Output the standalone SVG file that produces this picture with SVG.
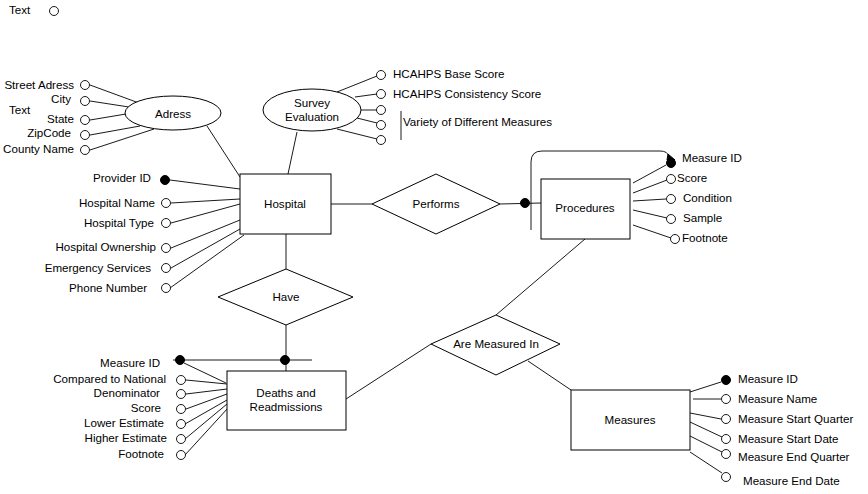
<svg xmlns="http://www.w3.org/2000/svg" width="868" height="494" viewBox="0 0 868 494">
<style>
text{font-family:"Liberation Sans",Arial,sans-serif;font-size:11.6px;fill:#000}
.s{fill:#fff;stroke:#000;stroke-width:1}
.c{fill:#fff;stroke:#000;stroke-width:0.9}
.k{fill:#000;stroke:#000;stroke-width:1}
.l{fill:none;stroke:#000;stroke-width:0.9}
.m{text-anchor:middle}
.e{text-anchor:end}
</style>
<rect width="868" height="494" fill="#fff"/>
<g id="connectors">
<line class="l" x1="90" y1="85" x2="139" y2="103"/>
<line class="l" x1="90" y1="101" x2="129" y2="107"/>
<line class="l" x1="90" y1="120" x2="126" y2="114"/>
<line class="l" x1="90" y1="135" x2="140" y2="126"/>
<line class="l" x1="90" y1="150" x2="154" y2="129"/>
<line class="l" x1="207" y1="126" x2="240" y2="177"/>
<line class="l" x1="337" y1="92" x2="377" y2="76"/>
<line class="l" x1="355" y1="97" x2="377" y2="94"/>
<line class="l" x1="361" y1="110" x2="377" y2="110"/>
<line class="l" x1="357" y1="118" x2="377" y2="123"/>
<line class="l" x1="337" y1="129" x2="377" y2="139"/>
<line class="l" x1="297" y1="132" x2="288" y2="174"/>
<line class="l" x1="401" y1="111" x2="401" y2="140"/>
<line class="l" x1="170" y1="180" x2="240" y2="189"/>
<line class="l" x1="171" y1="203" x2="240" y2="199"/>
<line class="l" x1="171" y1="223" x2="240" y2="204"/>
<line class="l" x1="171" y1="248" x2="240" y2="220"/>
<line class="l" x1="171" y1="268" x2="240" y2="229"/>
<line class="l" x1="170" y1="288" x2="244" y2="235"/>
<line class="l" x1="331" y1="204" x2="372" y2="204"/>
<line class="l" x1="500" y1="204" x2="541" y2="203"/>
<path class="l" d="M531 230 V162 Q531 151 542 151 H660 Q668 151 669 157"/>
<line class="l" x1="633" y1="183" x2="666" y2="165"/>
<line class="l" x1="633" y1="193" x2="667" y2="180"/>
<line class="l" x1="633" y1="201" x2="666" y2="199"/>
<line class="l" x1="633" y1="210" x2="667" y2="218"/>
<line class="l" x1="633" y1="225" x2="671" y2="238"/>
<line class="l" x1="286" y1="234" x2="286" y2="269"/>
<line class="l" x1="286" y1="325" x2="286" y2="371"/>
<line class="l" x1="173" y1="360" x2="312" y2="360"/>
<line class="l" x1="184" y1="363" x2="226" y2="383"/>
<line class="l" x1="186" y1="380" x2="227" y2="384"/>
<line class="l" x1="186" y1="394" x2="227" y2="389"/>
<line class="l" x1="186" y1="409" x2="227" y2="394"/>
<line class="l" x1="185" y1="424" x2="227" y2="400"/>
<line class="l" x1="185" y1="439" x2="227" y2="404"/>
<line class="l" x1="185" y1="455" x2="228" y2="408"/>
<line class="l" x1="346" y1="399" x2="431" y2="344"/>
<line class="l" x1="585" y1="239" x2="496" y2="315"/>
<line class="l" x1="528" y1="361" x2="571" y2="390"/>
<line class="l" x1="690" y1="392" x2="721" y2="382"/>
<line class="l" x1="693" y1="399" x2="721" y2="399"/>
<line class="l" x1="690" y1="413" x2="721" y2="419"/>
<line class="l" x1="690" y1="422" x2="722" y2="437"/>
<line class="l" x1="690" y1="436" x2="722" y2="452"/>
<line class="l" x1="690" y1="452" x2="722" y2="473"/>
</g>
<g id="legend"><text x="9" y="14">Text</text><circle class="c" cx="54" cy="11" r="4.5"/></g>
<g id="adress"><ellipse class="s" cx="173" cy="113" rx="48" ry="17"/><text class="m" x="173" y="118">Adress</text></g>
<g id="adress-attrs">
<text class="e" x="74" y="89">Street Adress</text><circle class="c" cx="85" cy="85" r="4.5"/>
<text class="e" x="71" y="103">City</text><circle class="c" cx="85" cy="101" r="4.5"/>
<text x="9" y="114">Text</text>
<text class="e" x="74" y="123">State</text><circle class="c" cx="85" cy="120" r="4.5"/>
<text class="e" x="71" y="137">ZipCode</text><circle class="c" cx="85" cy="135" r="4.5"/>
<text class="e" x="74" y="153">County Name</text><circle class="c" cx="85" cy="150" r="4.5"/>
</g>
<g id="survey"><ellipse class="s" cx="312" cy="110" rx="49" ry="21"/><text class="m" x="312" y="107">Survey</text><text class="m" x="312" y="121">Evaluation</text></g>
<g id="survey-attrs">
<circle class="c" cx="381" cy="75" r="4.5"/><text x="393" y="78">HCAHPS Base Score</text>
<circle class="c" cx="381" cy="94" r="4.5"/><text x="393" y="98">HCAHPS Consistency Score</text>
<circle class="c" cx="381" cy="110" r="4.5"/>
<circle class="c" cx="381" cy="125" r="4.5"/>
<circle class="c" cx="381" cy="140" r="4.5"/>
<text x="403" y="126">Variety of Different Measures</text>
</g>
<g id="hospital"><rect class="s" x="240" y="174" width="91" height="60"/><text class="m" x="285" y="208">Hospital</text></g>
<g id="hospital-attrs">
<text class="e" x="151" y="182">Provider ID</text><circle class="k" cx="165" cy="180" r="4.5"/>
<text class="e" x="155" y="207">Hospital Name</text><circle class="c" cx="166" cy="203" r="4.5"/>
<text class="e" x="154" y="227">Hospital Type</text><circle class="c" cx="166" cy="223" r="4.5"/>
<text class="e" x="156" y="251">Hospital Ownership</text><circle class="c" cx="166" cy="248" r="4.5"/>
<text class="e" x="151" y="272">Emergency Services</text><circle class="c" cx="166" cy="268" r="4.5"/>
<text class="e" x="147" y="292">Phone Number</text><circle class="c" cx="166" cy="288" r="4.5"/>
</g>
<g id="performs"><polygon class="s" points="372,204 436,174 500,204 436,234"/><text class="m" x="436" y="208">Performs</text></g>
<g id="procedures"><rect class="s" x="541" y="179" width="89" height="60"/><text class="m" x="585" y="212">Procedures</text>
<circle class="k" cx="525" cy="203" r="4.5"/></g>
<g id="procedures-attrs">
<circle class="k" cx="671" cy="163" r="4.5"/><polygon class="k" points="667,160 675,160 668,154"/><text x="682" y="162">Measure ID</text>
<circle class="c" cx="671" cy="179" r="4.5"/><text x="677" y="182">Score</text>
<circle class="c" cx="671" cy="199" r="4.5"/><text x="683" y="202">Condition</text>
<circle class="c" cx="671" cy="219" r="4.5"/><text x="683" y="222">Sample</text>
<circle class="c" cx="675" cy="239" r="4.5"/><text x="682" y="242">Footnote</text>
</g>
<g id="have"><polygon class="s" points="218,297 286,269 353,297 286,325"/><text class="m" x="286" y="301">Have</text></g>
<g id="deaths"><rect class="s" x="227" y="371" width="119" height="59"/><text class="m" x="286" y="397">Deaths and</text><text class="m" x="286" y="411">Readmissions</text>
<circle class="k" cx="285" cy="360" r="4.5"/></g>
<g id="deaths-attrs">
<circle class="k" cx="180" cy="360" r="4.5"/><text class="e" x="160" y="367">Measure ID</text>
<circle class="c" cx="181" cy="380" r="4.5"/><text class="e" x="166" y="383">Compared to National</text>
<circle class="c" cx="181" cy="394" r="4.5"/><text class="e" x="160" y="397">Denominator</text>
<circle class="c" cx="181" cy="409" r="4.5"/><text class="e" x="161" y="412">Score</text>
<circle class="c" cx="181" cy="424" r="4.5"/><text class="e" x="164" y="427">Lower Estimate</text>
<circle class="c" cx="181" cy="439" r="4.5"/><text class="e" x="167" y="442">Higher Estimate</text>
<circle class="c" cx="181" cy="455" r="4.5"/><text class="e" x="164" y="458">Footnote</text>
</g>
<g id="are-measured-in"><polygon class="s" points="431,344 496,315 560,344 496,375"/><text class="m" x="496" y="348">Are Measured In</text></g>
<g id="measures"><rect class="s" x="571" y="390" width="119" height="60"/><text class="m" x="630" y="424">Measures</text></g>
<g id="measures-attrs">
<circle class="k" cx="726" cy="380" r="4.5"/><text x="738" y="383">Measure ID</text>
<circle class="c" cx="726" cy="399" r="4.5"/><text x="738" y="403">Measure Name</text>
<circle class="c" cx="726" cy="419" r="4.5"/><text x="738" y="423">Measure Start Quarter</text>
<circle class="c" cx="726" cy="439" r="4.5"/><text x="738" y="443">Measure Start Date</text>
<circle class="c" cx="726" cy="454" r="4.5"/><text x="738" y="461">Measure End Quarter</text>
<circle class="c" cx="726" cy="477" r="4.5"/><text x="743" y="485">Measure End Date</text>
</g>
</svg>
